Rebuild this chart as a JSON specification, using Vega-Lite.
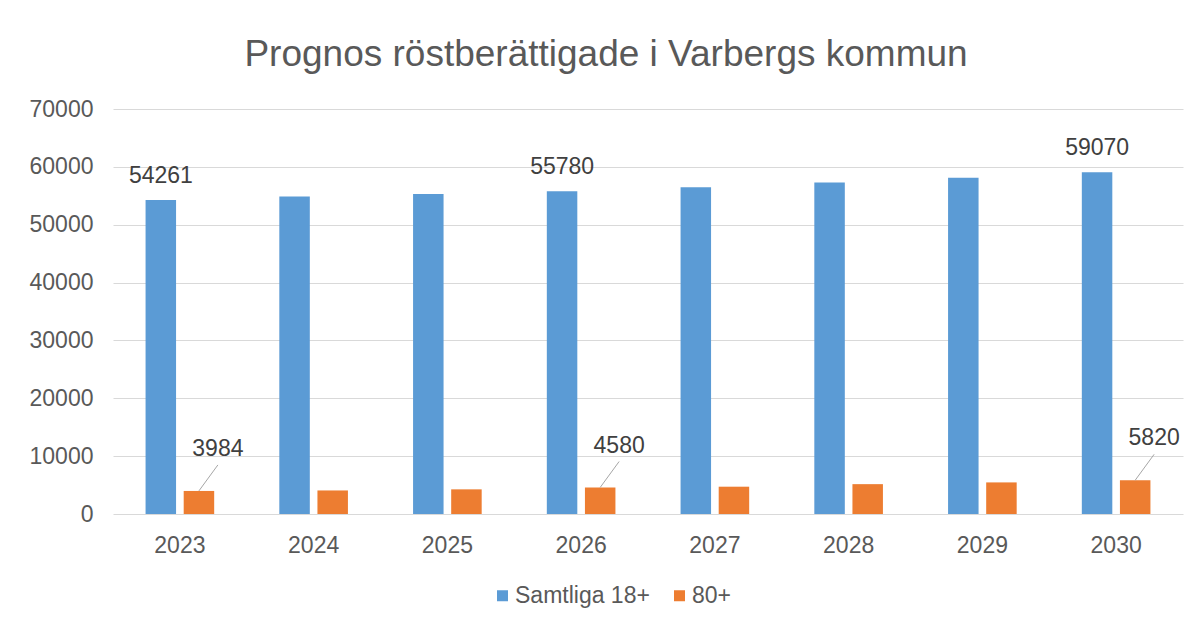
{
  "$schema": "https://vega.github.io/schema/vega-lite/v6.json",
  "width": 1070,
  "height": 405,
  "autosize": {"type": "none"},
  "padding": {"left": 113, "top": 109, "right": 17, "bottom": 112},
  "background": "white",
  "title": {
    "text": "Prognos röstberättigade i Varbergs kommun",
    "font": "Liberation Sans",
    "fontSize": 37,
    "fontWeight": "normal",
    "color": "#595959",
    "anchor": "middle",
    "frame": "bounds",
    "baseline": "alphabetic",
    "offset": -5
  },
  "config": {"view": {"stroke": null}},
  "data": {
    "values": [
      {"year": "2023", "series": "Samtliga 18+", "value": 54261, "show": true},
      {"year": "2023", "series": "80+", "value": 3984, "show": true},
      {"year": "2024", "series": "Samtliga 18+", "value": 54880, "show": false},
      {"year": "2024", "series": "80+", "value": 4070, "show": false},
      {"year": "2025", "series": "Samtliga 18+", "value": 55320, "show": false},
      {"year": "2025", "series": "80+", "value": 4260, "show": false},
      {"year": "2026", "series": "Samtliga 18+", "value": 55780, "show": true},
      {"year": "2026", "series": "80+", "value": 4580, "show": true},
      {"year": "2027", "series": "Samtliga 18+", "value": 56480, "show": false},
      {"year": "2027", "series": "80+", "value": 4720, "show": false},
      {"year": "2028", "series": "Samtliga 18+", "value": 57280, "show": false},
      {"year": "2028", "series": "80+", "value": 5160, "show": false},
      {"year": "2029", "series": "Samtliga 18+", "value": 58100, "show": false},
      {"year": "2029", "series": "80+", "value": 5460, "show": false},
      {"year": "2030", "series": "Samtliga 18+", "value": 59070, "show": true},
      {"year": "2030", "series": "80+", "value": 5820, "show": true}
    ]
  },
  "encoding": {
    "x": {
      "field": "year",
      "type": "nominal",
      "scale": {"paddingInner": 0.487, "paddingOuter": 0.2435},
      "axis": {
        "title": null,
        "labelAngle": 0,
        "ticks": false,
        "domain": false,
        "labelFont": "Liberation Sans",
        "labelFontSize": 23,
        "labelPadding": 20,
        "labelColor": "#595959"
      }
    },
    "y": {
      "field": "value",
      "type": "quantitative",
      "scale": {"domain": [0, 70000], "nice": false},
      "axis": {
        "title": null,
        "values": [0, 10000, 20000, 30000, 40000, 50000, 60000, 70000],
        "format": "d",
        "ticks": false,
        "domain": false,
        "labelFont": "Liberation Sans",
        "labelFontSize": 23,
        "labelPadding": 20,
        "labelColor": "#595959",
        "gridColor": "#d9d9d9",
        "gridWidth": 1.2
      }
    }
  },
  "layer": [
    {
      "mark": {"type": "bar"},
      "encoding": {
        "xOffset": {
          "field": "series",
          "type": "nominal",
          "sort": ["Samtliga 18+", "80+"],
          "scale": {"paddingInner": 0.2, "paddingOuter": 0}
        },
        "color": {
          "field": "series",
          "type": "nominal",
          "sort": ["Samtliga 18+", "80+"],
          "scale": {"domain": ["Samtliga 18+", "80+"], "range": ["#5B9BD5", "#ED7D31"]},
          "legend": {
            "orient": "none",
            "legendX": 378,
            "legendY": 475,
            "direction": "horizontal",
            "title": null,
            "symbolType": "square",
            "symbolSize": 121,
            "symbolStrokeWidth": 0,
            "labelFont": "Liberation Sans",
            "labelFontSize": 23,
            "labelColor": "#595959",
            "labelOffset": 1,
            "columnPadding": 18
          }
        }
      }
    },
    {
      "transform": [{"filter": "datum.show && datum.series == 'Samtliga 18+'"}],
      "mark": {"type": "text", "dx": -19, "dy": -24, "baseline": "middle", "font": "Liberation Sans", "fontSize": 23, "color": "#404040"},
      "encoding": {"text": {"field": "value", "type": "quantitative", "format": "d"}}
    },
    {
      "transform": [{"filter": "datum.show && datum.series == '80+'"}],
      "mark": {"type": "rule", "xOffset": 19, "x2Offset": 38, "y2Offset": -26, "color": "#a6a6a6", "strokeWidth": 1},
      "encoding": {"x2": {"field": "year"}, "y2": {"field": "value"}}
    },
    {
      "transform": [{"filter": "datum.show && datum.series == '80+'"}],
      "mark": {"type": "text", "dx": 38, "dy": -42, "baseline": "middle", "font": "Liberation Sans", "fontSize": 23, "color": "#404040"},
      "encoding": {"text": {"field": "value", "type": "quantitative", "format": "d"}}
    }
  ]
}
